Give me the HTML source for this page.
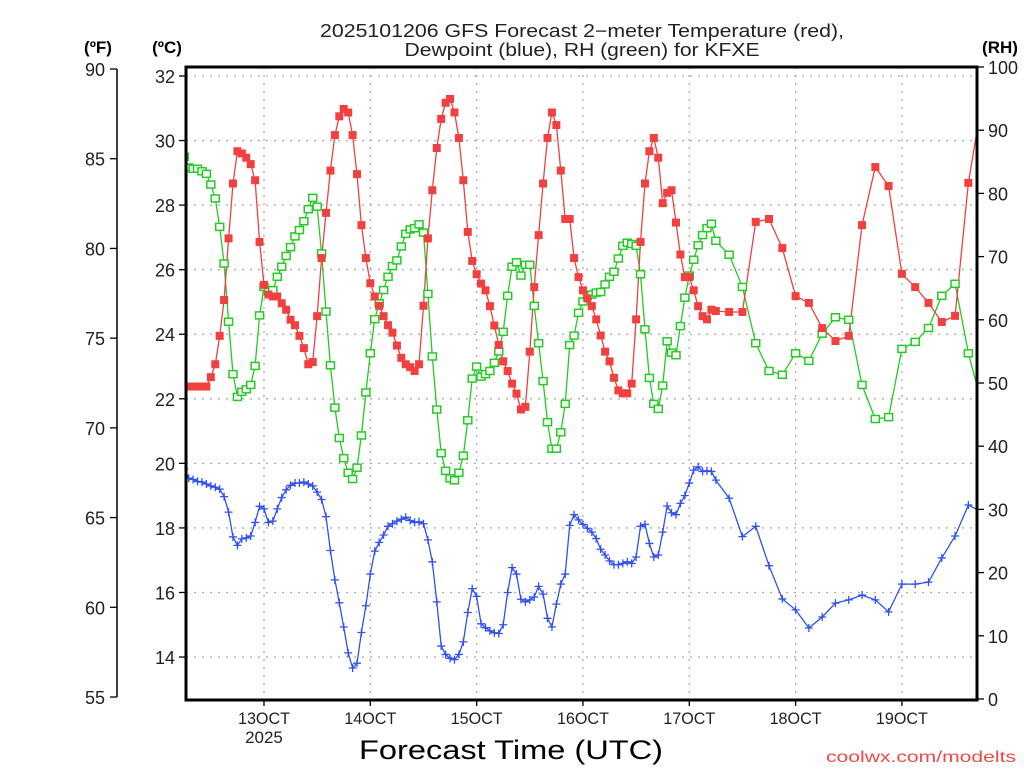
<!DOCTYPE html>
<html><head><meta charset="utf-8"><style>
html,body{margin:0;padding:0;background:#fff;width:1024px;height:768px;overflow:hidden}
svg{display:block}
text{font-family:"Liberation Sans",sans-serif;fill:#222}
</style></head><body>
<svg id="chart" width="1024" height="768" viewBox="0 0 1024 768" xmlns="http://www.w3.org/2000/svg">
<text x="582" y="37" font-size="18" text-anchor="middle" textLength="524" lengthAdjust="spacingAndGlyphs">2025101206 GFS Forecast 2−meter Temperature (red),</text>
<text x="582" y="56" font-size="18" text-anchor="middle" textLength="355" lengthAdjust="spacingAndGlyphs">Dewpoint (blue), RH (green) for KFXE</text>
<text x="98" y="53" font-size="17" font-weight="bold" text-anchor="middle" style="fill:#000">(ºF)</text>
<text x="167" y="53" font-size="17" font-weight="bold" text-anchor="middle" style="fill:#000">(ºC)</text>
<text x="1000" y="53" font-size="17" font-weight="bold" text-anchor="middle" style="fill:#000">(RH)</text>
<text x="511" y="759" font-size="27" text-anchor="middle" style="fill:#000" textLength="304" lengthAdjust="spacingAndGlyphs">Forecast Time (UTC)</text>
<text x="1016" y="762" font-size="16" text-anchor="end" style="fill:#f04848" textLength="190" lengthAdjust="spacingAndGlyphs">coolwx.com/modelts</text>
<g id="grid"></g><g id="axes"></g>
<defs><clipPath id="plotclip"><rect x="186" y="67" width="791" height="633"/></clipPath></defs>
<g id="series" clip-path="url(#plotclip)"></g>
<rect x="186" y="67" width="791" height="633" fill="none" stroke="#000" stroke-width="3"/>
</svg>
<script>
// hourly 0..120, then 3-hourly 123..180 (forecast hours from 12 Oct 06Z)
const tempC = [22.38,22.38,22.38,22.38,22.38,22.38,22.67,23.07,23.95,25.06,26.97,28.67,29.67,29.60,29.47,29.27,28.77,26.86,25.53,25.23,25.17,25.17,24.96,24.76,24.45,24.28,23.95,23.57,23.07,23.14,24.56,26.36,27.76,29.07,30.17,30.75,30.98,30.87,30.17,28.96,27.38,26.36,25.58,25.17,24.88,
24.56,24.28,24.05,23.65,23.27,23.07,22.98,22.86,23.07,24.88,26.97,28.46,29.77,30.67,31.17,31.29,30.87,30.08,28.77,27.17,26.27,25.86,25.57,25.36,24.87,24.27,23.67,23.16,22.86,22.47,22.16,21.67,21.75,23.46,25.46,27.07,28.67,30.08,30.87,30.48,29.07,27.57,27.57,26.36,
25.77,25.36,25.11,24.87,24.46,23.96,23.46,23.16,22.65,22.26,22.17,22.17,22.47,24.46,26.86,28.67,29.67,30.08,29.47,28.06,28.38,28.46,27.46,26.47,25.77,25.77,25.36,24.87,24.56,24.46,24.76,24.72,
24.69,24.69,27.48,27.57,26.67,25.18,24.97,24.19,23.79,23.95,27.38,29.18,28.59,25.87,25.46,24.97,24.38,24.57,28.69,31.16];
const dewC = [19.83,19.54,19.50,19.44,19.42,19.36,19.30,19.26,19.20,18.97,18.49,17.72,17.46,17.66,17.69,17.75,18.17,18.67,18.59,18.17,18.21,18.59,18.94,19.18,19.32,19.39,19.39,19.42,19.36,19.30,19.11,18.88,18.35,17.30,16.39,15.68,14.93,14.13,13.66,13.81,14.76,15.59,16.57,17.28,17.55,
17.78,18.05,18.13,18.21,18.27,18.33,18.23,18.17,18.19,18.13,17.63,16.95,15.71,14.34,14.08,13.96,13.92,14.08,14.47,15.38,16.12,15.88,15.03,14.91,14.81,14.75,14.73,15.00,16.00,16.77,16.57,15.79,15.71,15.77,15.86,16.19,15.95,15.20,14.93,15.64,16.26,16.57,18.08,18.41,
18.25,18.11,17.99,17.87,17.67,17.34,17.16,16.98,16.86,16.86,16.90,16.95,16.90,17.10,18.05,18.11,17.52,17.10,17.16,17.87,18.68,18.47,18.41,18.76,19.00,19.39,19.79,19.89,19.75,19.77,19.75,19.48,
18.92,17.73,18.05,16.83,15.80,15.46,14.90,15.24,15.67,15.77,15.92,15.77,15.40,16.26,16.26,16.32,17.07,17.75,18.71,18.49];
const rhPct = [85.8,84.1,83.9,83.9,83.5,83.1,81.4,79.2,74.7,68.9,59.7,51.4,47.8,48.6,49.0,49.7,52.7,60.7,65.2,64.4,64.7,66.8,68.4,70.1,71.5,73.2,74.2,75.6,77.5,79.3,77.9,70.5,61.3,52.8,46.1,41.3,38.1,35.8,34.8,36.6,41.7,48.5,54.7,60.1,62.6,
64.7,66.8,68.5,69.4,71.6,73.6,74.3,74.5,75.1,73.8,64.1,54.2,45.8,38.9,36.1,34.9,34.6,35.8,38.5,44.1,50.7,52.6,51.0,51.4,51.9,53.2,55.0,58.1,63.8,68.4,69.1,67.0,68.7,68.7,62.2,56.3,50.3,43.8,39.6,39.6,42.2,46.7,56.0,57.5,
61.1,62.9,63.8,64.0,64.3,64.4,65.6,66.8,67.6,69.7,71.7,72.2,72.0,71.7,67.2,58.5,50.8,46.7,45.9,49.6,56.6,54.8,54.4,59.0,63.5,67.0,69.5,71.8,73.4,74.5,75.2,72.5,
70.3,65.2,56.3,51.9,51.3,54.7,53.5,57.8,60.4,60.0,49.7,44.3,44.6,55.4,56.5,58.7,63.8,65.7,54.7,46.8];
const celsiusTicks = [14,16,18,20,22,24,26,28,30,32];
const fahrenheitTicks = [55,60,65,70,75,80,85,90];
const rhTicks = [0,10,20,30,40,50,60,70,80,90,100];
const dayLabels = ["13OCT","14OCT","15OCT","16OCT","17OCT","18OCT","19OCT"];
const dayHours = [18,42,66,90,114,138,162];

const NS="http://www.w3.org/2000/svg";
const hours=[];for(let h=0;h<=120;h++)hours.push(h);for(let h=123;h<=180;h+=3)hours.push(h);
const xS=h=>184.25+h*4.43;
const yC=c=>76+(32-c)*32.28;
const yF=f=>69+(90-f)*17.943;
const yR=r=>699-r*6.32;
function mk(tag,attrs,parent){const e=document.createElementNS(NS,tag);for(const k in attrs)e.setAttribute(k,attrs[k]);parent.appendChild(e);return e;}
const grid=document.getElementById('grid'),axes=document.getElementById('axes'),ser=document.getElementById('series');

celsiusTicks.forEach(c=>{const y=yC(c);
 const g=mk('line',{x1:186,x2:977,y1:y,y2:y,stroke:'#aaa','stroke-width':1.3,'stroke-dasharray':'2,6'},grid);
 
 
 const t=mk('line',{x1:179,x2:186,y1:y,y2:y,stroke:'#000','stroke-width':1.3},axes);
 
 
 const l=mk('text',{x:175,y:y+7,'font-size':18,'text-anchor':'end'},axes);l.textContent=c;
 
 
});
dayHours.forEach((h,i)=>{const x=xS(h);
 const g=mk('line',{x1:x,x2:x,y1:67,y2:700,stroke:'#aaa','stroke-width':1.3,'stroke-dasharray':'2,6'},grid);
 
 
 const t=mk('line',{x1:x,x2:x,y1:700,y2:706,stroke:'#000','stroke-width':1.3},axes);
 
 
 const l=mk('text',{x:x,y:724,'font-size':17,'text-anchor':'middle',textLength:52,lengthAdjust:'spacingAndGlyphs'},axes);l.textContent=dayLabels[i];
 
 
});
const yl=mk('text',{x:xS(18),y:743,'font-size':17,'text-anchor':'middle'},axes);yl.textContent='2025';


const fl=mk('line',{x1:117,x2:117,y1:yF(90),y2:yF(55),stroke:'#000','stroke-width':1.5},axes);


fahrenheitTicks.forEach(f=>{const y=yF(f);
 const t=mk('line',{x1:110,x2:117,y1:y,y2:y,stroke:'#000','stroke-width':1.3},axes);
 
 
 const l=mk('text',{x:105,y:y+7,'font-size':18,'text-anchor':'end'},axes);l.textContent=f;
 
 
});
rhTicks.forEach(r=>{const y=yR(r);
 const t=mk('line',{x1:977,x2:984,y1:y,y2:y,stroke:'#000','stroke-width':1.3},axes);
 
 
 const l=mk('text',{x:988,y:y+7,'font-size':18,'text-anchor':'start'},axes);l.textContent=r;
 
 
});

function drawLine(vals,yf,color,name){
 const d=vals.map((v,i)=>(i?'L':'M')+xS(hours[i]).toFixed(1)+','+yf(v).toFixed(1)).join('');
 const p=mk('path',{d:d,fill:'none',stroke:color,'stroke-width':1.3},ser);
 
 
}
drawLine(rhPct,yR,'#22cc22','rh');
drawLine(tempC,yC,'#f04040','temperature');
drawLine(dewC,yC,'#3050f0','dewpoint');
rhPct.forEach((v,i)=>{const x=xS(hours[i]),y=yR(v);
 const m=mk('rect',{x:x-4,y:y-3.5,width:8,height:7,fill:'#fff',stroke:'#22cc22','stroke-width':1.5},ser);
 
 
});
tempC.forEach((v,i)=>{const x=xS(hours[i]),y=yC(v);
 const m=mk('rect',{x:x-4,y:y-4,width:8,height:8,fill:'#f04040'},ser);
 
 
});
dewC.forEach((v,i)=>{const x=xS(hours[i]),y=yC(v);
 const m=mk('path',{d:`M${x-4},${y}H${x+4}M${x},${y-4}V${y+4}`,stroke:'#3050f0','stroke-width':1.3},ser);
 
 
});
</script>
</body></html>
